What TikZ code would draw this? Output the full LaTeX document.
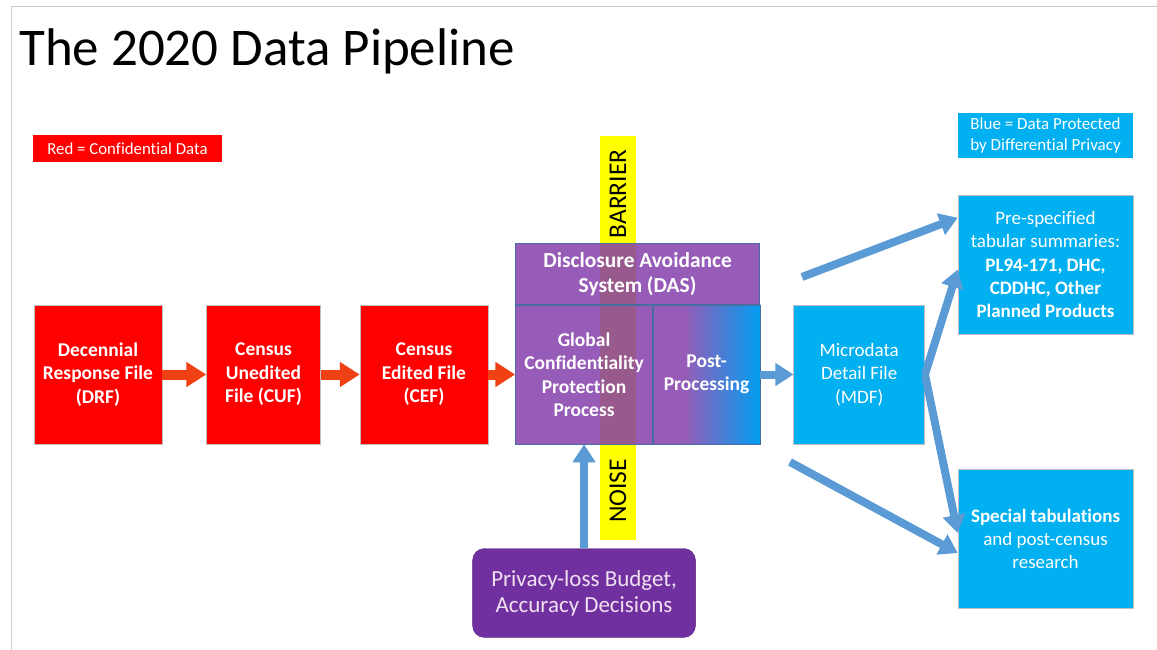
\documentclass[tikz,border=0pt]{standalone}
\usepackage{fontspec}
\setmainfont{Carlito}[Ligatures=NoCommon]
\usepackage{tikz}
\usetikzlibrary{arrows.meta, positioning, calc, backgrounds}
\definecolor{confRed}{RGB}{255,0,0}
\definecolor{flowOrange}{RGB}{240,65,20}
\definecolor{dpBlue}{RGB}{0,176,240}
\definecolor{arrowBlue}{RGB}{91,155,213}
\definecolor{dasPurple}{RGB}{150,92,184}
\definecolor{dasLine}{RGB}{70,110,160}
\definecolor{barMix}{RGB}{152,90,140}
\definecolor{barYellow}{RGB}{255,255,0}
\definecolor{budgetPurple}{RGB}{112,48,160}

\tikzset{
  filebox/.style={draw=black!25, line width=0.5pt, align=center, inner sep=0pt,
    text=white, font=\fontsize{19.5}{23.5}\selectfont\bfseries},
  redfile/.style={filebox, fill=confRed, minimum height=139pt},
  bluefile/.style={filebox, fill=dpBlue, minimum height=139pt,
    font=\fontsize{19}{23.3}\selectfont},
  daspart/.style={draw=dasLine, line width=0.6pt, align=center, inner sep=0pt,
    text=white, font=\fontsize{19.5}{23.5}\selectfont\bfseries},
  keybox/.style={align=center, inner sep=0pt, text=white},
  redflow/.style={-{Triangle[length=20pt,width=24pt]}, line width=10pt, draw=flowOrange},
  blueflow/.style={-{Triangle[length=18pt,width=22pt]}, line width=8pt, draw=arrowBlue},
}

\begin{document}
\begin{tikzpicture}[x=1pt, y=-1pt]
  \useasboundingbox (0,0) rectangle (1157,650);
  % --- Slide frame ---
  \draw[black!20, line width=1pt] (1157,7) -- (11,7) -- (11,650);

  % --- Title and keys ---
  \node[anchor=west, inner sep=0pt, font=\fontsize{53}{60}\selectfont] (Title) at (19,51) {The 2020 Data Pipeline};
  \node[keybox, fill=confRed, minimum width=189pt, minimum height=27pt,
        font=\fontsize{16.8}{19}\selectfont] (RedKey) at (127.5,148.5) {Red = Confidential Data};
  \node[keybox, fill=dpBlue, minimum width=175pt, minimum height=45pt,
        font=\fontsize{17}{21.5}\selectfont] (BlueKey) at (1045.5,135.5) {Blue = Data Protected\\by Differential Privacy};

  % --- Confidential files ---
  \node[redfile, minimum width=128pt] (DRF) at (98,374.5) {Decennial\\Response File\\(DRF)};
  \node[redfile, minimum width=114pt, right=44pt of DRF] (CUF) {Census\\Unedited\\File (CUF)};
  \node[redfile, minimum width=128pt, right=39pt of CUF] (CEF) {Census\\Edited File\\(CEF)};

  % --- Disclosure Avoidance System ---
  \node[daspart, minimum width=137pt, minimum height=139pt, right=27pt of CEF] (GCPP) {Global\\Confidentiality\\Protection\\Process};
  \node[daspart, minimum width=107pt, minimum height=139pt, right=0pt of GCPP] (PostProc) {Post-\\Processing};
  \node[daspart, minimum width=244pt, minimum height=61pt, anchor=south west,
        font=\fontsize{21.4}{25}\selectfont\bfseries] (DAS) at (GCPP.north west) {Disclosure Avoidance\\System (DAS)};

  % --- Protected outputs ---
  \node[bluefile, minimum width=131pt, right=33pt of PostProc] (MDF) {Microdata\\Detail File\\(MDF)};
  \node[bluefile, minimum width=175pt] (Tabular) at (1045.5,264.5)
       {Pre-specified\\tabular summaries:\\\textbf{PL94-171, DHC,}\\\textbf{CDDHC, Other}\\\textbf{Planned Products}};
  \node[bluefile, minimum width=175pt] (Special) at (1045.5,539)
       {\textbf{Special tabulations}\\and post-census\\research};

  % --- Privacy-loss budget ---
  \node[fill=budgetPurple, draw=budgetPurple!80!black, rounded corners=12pt, align=center,
        minimum width=223pt, minimum height=89pt, inner sep=0pt, text=white!88!violet,
        font=\fontsize{23}{26}\selectfont, below=104pt of GCPP] (Budget) {Privacy-loss Budget,\\Accuracy Decisions};

  % --- Barrier / noise bar ---
  \begin{scope}[on background layer]
    \fill[barYellow] (600,136) rectangle (636,540);
    \fill[dasPurple] (DAS.north west) rectangle (PostProc.south east);
    \shade[left color=dasPurple, right color=dpBlue!90!blue]
          ([xshift=32pt]PostProc.south west) rectangle (PostProc.north east);
    \fill[barMix] (600,0 |- DAS.north) rectangle (636,0 |- GCPP.south);
  \end{scope}
  \node[rotate=90, inner sep=0pt, font=\fontsize{25.5}{25.5}\selectfont] (BarrierLbl) at (618,194) {BARRIER};
  \node[rotate=90, inner sep=0pt, font=\fontsize{25.5}{25.5}\selectfont] (NoiseLbl) at (618,491) {NOISE};

  % --- Flow arrows ---
  \draw[redflow] (DRF) -- (CUF);
  \draw[redflow] (CUF) -- (CEF);
  \draw[redflow] (CEF) -- (GCPP);
  \draw[blueflow] (PostProc.east |- MDF) -- (MDF);
  \draw[blueflow] (Budget) -- (GCPP);

  \coordinate (DasOut) at (802,277);
  \coordinate (DasLow) at (790,462);
  \draw[blueflow] (DasOut) -- ([yshift=-23pt]Tabular.north west);
  \draw[blueflow] (MDF.east) -- ([yshift=-5pt]Tabular.west);
  \draw[blueflow] (MDF.east) -- ([yshift=6pt]Special.west);
  \draw[blueflow] (DasLow) -- ([yshift=-14pt]Special.west);
\end{tikzpicture}
\end{document}
